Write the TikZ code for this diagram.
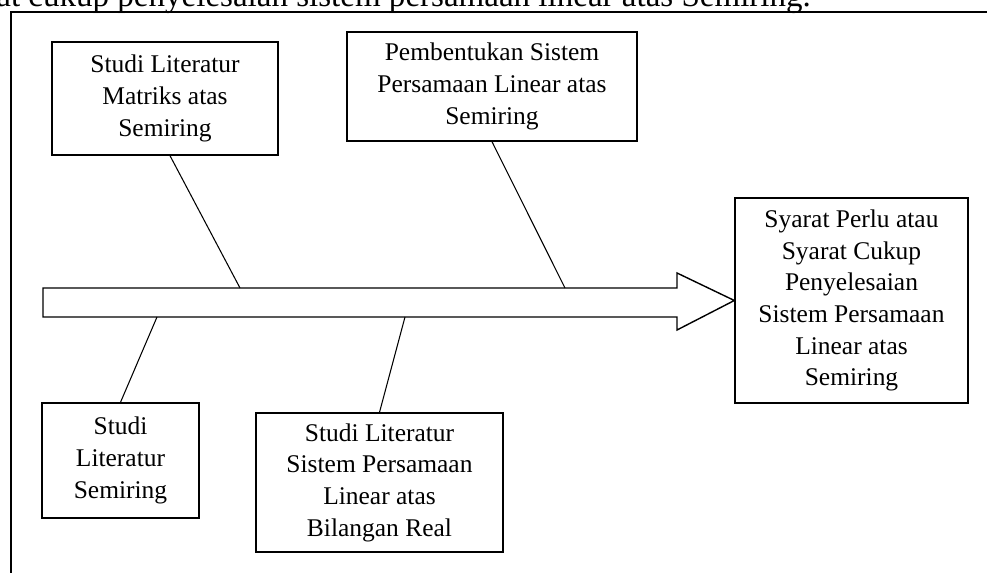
\documentclass[tikz,border=0pt]{standalone}
\usepackage{fontspec}
\setmainfont{Liberation Serif}
\usetikzlibrary{positioning}

\begin{document}
\begin{tikzpicture}[
    x=0.02cm, y=-0.02cm, % satu satuan = satu piksel
    process/.style={rectangle, draw=black, line width=0.8pt, align=center, inner sep=2pt, font=\fontsize{14.5}{18}\selectfont},
    branch/.style={draw, line width=0.6pt},
    spine/.style={draw, line width=0.8pt, fill=white}
]

\useasboundingbox (0,0) rectangle (987,573);
\clip (0,0) rectangle (987,573);

% Teks di atas bingkai (terpotong)
\node[anchor=base west, inner sep=0pt, font=\fontsize{18.8}{22}\selectfont] (judul) at (-4,7) {at cukup penyelesaian sistem persamaan linear atas Semiring.};

% Bingkai luar
\draw[line width=0.9pt] (11,12) rectangle (1000,600);

% Menentukan kotak
\node[process, minimum width=4.52cm, minimum height=2.26cm] (literaturmatriks) at (165,98.5) {
    Studi Literatur\\
    Matriks atas\\
    Semiring
};

\node[process, minimum width=5.8cm, minimum height=2.18cm] (pembentukan) at (492,86.5) {
    Pembentukan Sistem\\
    Persamaan Linear atas\\
    Semiring
};

\node[process, minimum width=3.14cm, minimum height=2.3cm] (literatursemiring) at (120.5,460.5) {
    Studi\\
    Literatur\\
    Semiring
};

\node[process, minimum width=4.94cm, minimum height=2.78cm] (literaturspl) at (379.5,482.5) {
    Studi Literatur\\
    Sistem Persamaan\\
    Linear atas\\
    Bilangan Real
};

\node[process, minimum width=4.66cm, minimum height=4.1cm] (hasil) at (851.5,300.5) {
    Syarat Perlu atau\\
    Syarat Cukup\\
    Penyelesaian\\
    Sistem Persamaan\\
    Linear atas\\
    Semiring
};

% Panah utama
\draw[spine] (43,288) -- (677,288) -- (677,273) -- (hasil.west) -- (677,330) -- (677,317) -- (43,317) -- cycle;

\coordinate (atas1) at (240,288);
\coordinate (atas2) at (565,288);
\coordinate (bawah1) at (157,317);
\coordinate (bawah2) at (405,317);

% Garis cabang
\draw[branch] ([xshift=0.1cm]literaturmatriks.south) -- (atas1);
\draw[branch] (pembentukan.south) -- (atas2);
\draw[branch] (literatursemiring.north) -- (bawah1);
\draw[branch] (literaturspl.north) -- (bawah2);

\end{tikzpicture}
\end{document}
